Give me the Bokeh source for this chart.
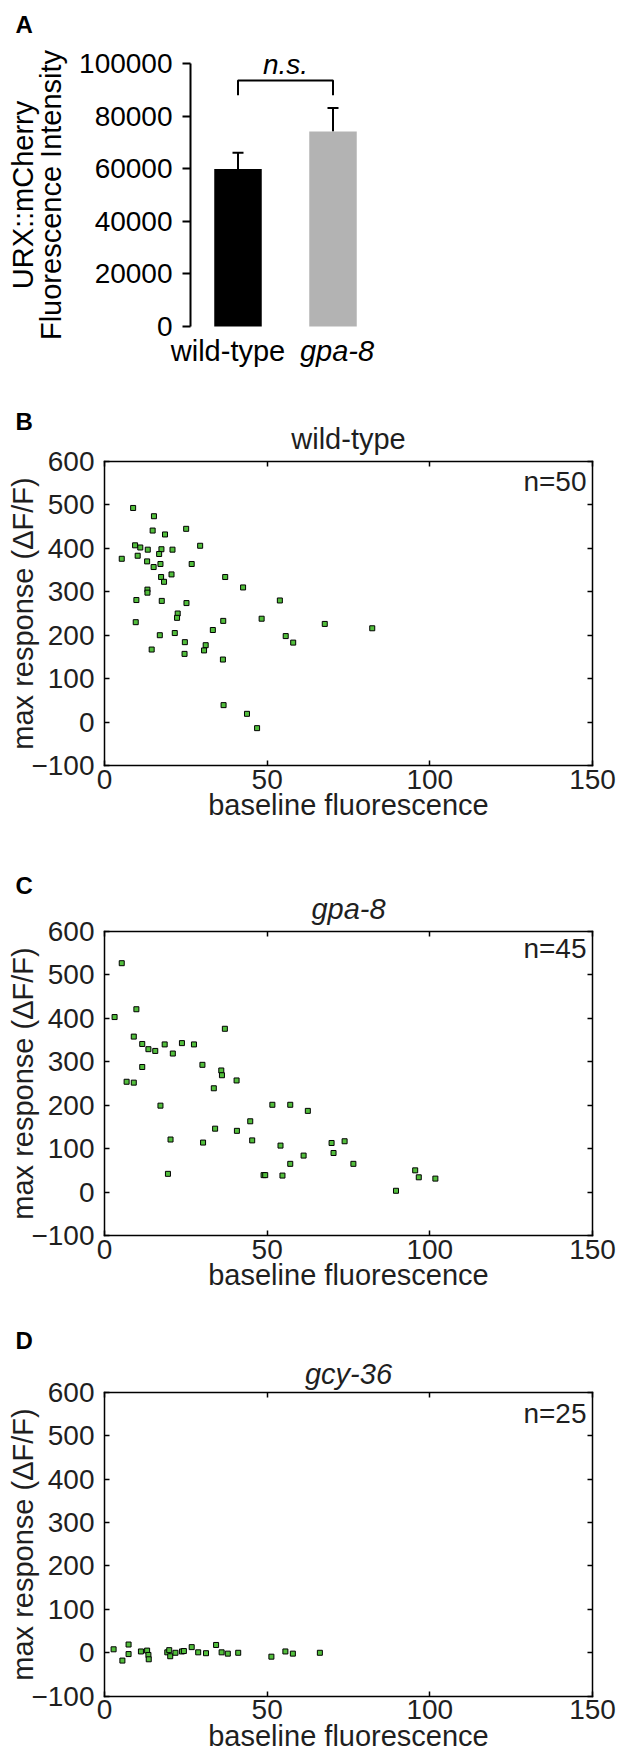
from bokeh.plotting import figure
from bokeh.layouts import column
from bokeh.models import (Range1d, FixedTicker, LinearAxis, Label, Whisker, TeeHead,
                          ColumnDataSource, BasicTickFormatter, CustomJSTickFormatter)
from bokeh.embed import file_html
from bokeh.resources import INLINE

FONT = "Liberation Sans"
TXT = "#1f1f1f"
GREEN = "#52BE3C"

# ---------------- data ----------------
bar_categories = ["wild-type", "gpa-8"]
bar_category_styles = ["normal", "italic"]
bar_means = [60000, 74200]
bar_sems = [6100, 9000]
bar_colors = ["black", "#B3B3B3"]
bar_ticks = [0, 20000, 40000, 60000, 80000, 100000]
bar_sig_label = "n.s."

scatter_x_ticks = [0, 50, 100, 150]
scatter_y_ticks = [-100, 0, 100, 200, 300, 400, 500, 600]

wt_baseline = [8.8, 15.2, 14.8, 25.1, 18.6, 9.4, 11.0, 13.3, 17.5, 20.9,
               29.4, 16.8, 10.2, 5.3, 13.1, 17.2, 15.1, 26.8, 20.6, 17.4,
               18.3, 37.1, 42.6, 13.2, 13.2, 9.8, 17.6, 25.2, 53.9, 22.5,
               22.3, 9.6, 36.5, 48.3, 67.7, 82.3, 21.6, 17.0, 33.3, 55.7,
               24.7, 58.0, 31.1, 14.5, 30.6, 24.6, 36.4, 36.6, 43.8, 46.9]
wt_response = [493, 474, 441, 445, 432, 407, 402, 397, 398, 397,
               406, 387, 383, 376, 370, 364, 357, 364, 340, 334,
               323, 334, 310, 305, 298, 281, 279, 274, 280, 250,
               240, 230, 233, 238, 226, 216, 205, 200, 212, 198,
               184, 183, 177, 167, 165, 157, 144, 39, 19, -14]

gpa8_baseline = [5.3, 3.1, 9.8, 37.0, 9.0, 11.6, 18.5, 23.8, 27.5, 13.5,
                 15.6, 21.0, 30.1, 11.6, 35.9, 36.1, 6.8, 9.0, 40.6, 33.6,
                 17.2, 51.6, 57.1, 62.5, 44.8, 34.0, 40.7, 20.3, 45.4, 30.3,
                 54.1, 69.8, 73.8, 70.4, 61.2, 57.1, 76.5, 19.5, 48.9, 49.4,
                 54.7, 95.5, 96.6, 101.7, 89.6]
gpa8_response = [527, 403, 421, 376, 358, 341, 340, 343, 340, 329,
                 325, 319, 293, 288, 280, 269, 254, 252, 257, 239,
                 199, 201, 201, 187, 163, 146, 141, 121, 119, 114,
                 107, 113, 117, 90, 84, 65, 65, 42, 39, 39,
                 38, 50, 34, 31, 3]

gcy36_baseline = [2.8, 5.5, 7.4, 7.4, 11.2, 13.1, 13.5, 13.6, 19.3, 19.9,
                  20.2, 21.8, 23.8, 24.4, 26.8, 28.8, 31.2, 34.3, 36.0, 37.9,
                  41.1, 51.3, 55.6, 57.9, 66.2]
gcy36_response = [8, -18, 19, -3, 3, 5, -5, -15, 1, 6,
                  -8, 0, 3, 4, 13, 1, -1, 18, 1, -2,
                  0, -9, 3, -2, 0]

W = 619          # the generated page has no body margin
LABEL_SIZE = "29px"
TICK_SIZE = "28px"


def make_fig(height, box, xlim, ylim):
    """Figure whose frame is the whole canvas; `box` (left, right, top, bottom) in
    canvas pixels is where xlim/ylim land."""
    bl, br, bt, bb = box
    sx = (xlim[1] - xlim[0]) / (br - bl)
    sy = (ylim[1] - ylim[0]) / (bb - bt)
    p = figure(width=W, height=height, output_backend="svg", toolbar_location=None,
               x_range=Range1d(xlim[0] - bl * sx, xlim[1] + (W - br) * sx),
               y_range=Range1d(ylim[0] - (height - bb) * sy, ylim[1] + bt * sy),
               min_border=0)
    p.min_border_left = p.min_border_right = p.min_border_top = p.min_border_bottom = 0
    p.grid.visible = False
    p.outline_line_color = None

    def at(px, py):
        return xlim[0] + (px - bl) * sx, ylim[1] - (py - bt) * sy
    return p, at


def text(p, xy, s, size=LABEL_SIZE, style="normal", align="left", color=TXT, x_offset=0):
    # xy is the vertical middle of the text line
    p.add_layout(Label(x=xy[0], y=xy[1], text=s, x_offset=x_offset, text_font=FONT,
                       text_font_size=size, text_font_style=style, text_align=align,
                       text_baseline="middle", text_color=color))


# ---------------- panel A ----------------
pos = [i + 0.5 for i in range(len(bar_categories))]
pa, at_a = make_fig(400, (190, 380, 63.3, 326), (0, len(bar_categories)),
                    (bar_ticks[0], bar_ticks[-1]))
pa.xaxis.visible = False

pa.vbar(x=pos, top=bar_means, width=0.5, fill_color=bar_colors, line_color=None)
src = ColumnDataSource(dict(x=pos, lower=bar_means,
                            upper=[m + s for m, s in zip(bar_means, bar_sems)]))
pa.add_layout(Whisker(source=src, base="x", lower="lower", upper="upper",
                      line_width=2, line_color="black",
                      upper_head=TeeHead(size=11, line_width=2, line_color="black"),
                      lower_head=None))
bracket_top = 93600
bracket_drop = 5600
pa.line(x=[pos[0], pos[0], pos[1], pos[1]],
        y=[bracket_top - bracket_drop, bracket_top, bracket_top, bracket_top - bracket_drop],
        line_width=2, line_color="black")
text(pa, (sum(pos) / len(pos), at_a(0, 63.5)[1]), bar_sig_label, size=TICK_SIZE,
     style="italic", align="center", color="black")
for i, cat in enumerate(bar_categories):
    text(pa, (pos[i], at_a(0, 350.5)[1]), cat, style=bar_category_styles[i], align="center",
         color="black", x_offset=(-10 if i == 0 else 4))
text(pa, at_a(15, 23.5), "A", size="24px", style="bold", color="black")

ya = pa.yaxis[0]
ya.fixed_location = 0
ya.bounds = (bar_ticks[0], bar_ticks[-1])
ya.ticker = FixedTicker(ticks=bar_ticks)
ya.formatter = BasicTickFormatter(use_scientific=False)
ya.major_tick_out = 8
ya.major_tick_in = 0
ya.minor_tick_out = 0
ya.minor_tick_in = 0
ya.major_tick_line_width = 2
ya.axis_line_width = 2
ya.major_label_standoff = 10
ya.major_label_text_font = FONT
ya.major_label_text_font_size = TICK_SIZE
ya.major_label_text_color = "black"
ya.axis_label = "URX::mCherry\nFluorescence Intensity"
ya.axis_label_text_font = FONT
ya.axis_label_text_font_size = LABEL_SIZE
ya.axis_label_text_font_style = "normal"
ya.axis_label_text_color = "black"
ya.axis_label_text_line_height = 0.88
ya.axis_label_standoff = 9


# ---------------- scatter panels ----------------
def scatter_panel(letter, title, title_style, xs, ys, height, box_top, box_bottom,
                  letter_mid, title_mid, n_mid):
    x0, x1 = scatter_x_ticks[0], scatter_x_ticks[-1]
    y0, y1 = scatter_y_ticks[0], scatter_y_ticks[-1]
    bl, br = 104, 592
    p, at = make_fig(height, (bl, br, box_top, box_bottom), (x0, x1), (y0, y1))

    xa = p.xaxis[0]
    xa.fixed_location = y0
    xa.bounds = (x0, x1)
    xa.ticker = FixedTicker(ticks=scatter_x_ticks)
    xa.axis_label = "baseline fluorescence"
    xa.major_label_standoff = 4
    xa.axis_label_standoff = -3
    yax = p.yaxis[0]
    yax.fixed_location = x0
    yax.bounds = (y0, y1)
    yax.ticker = FixedTicker(ticks=scatter_y_ticks)
    yax.major_label_overrides = {-100: "\u2212100"}
    yax.axis_label = "max response (\u0394F/F)"
    yax.major_label_standoff = 10
    yax.axis_label_standoff = -11
    for ax in (xa, yax):
        ax.major_label_text_font = FONT
        ax.major_label_text_font_size = TICK_SIZE
        ax.major_label_text_color = TXT
        ax.axis_label_text_font = FONT
        ax.axis_label_text_font_size = LABEL_SIZE
        ax.axis_label_text_font_style = "normal"
        ax.axis_label_text_color = TXT
    axes = [xa, yax]
    for loc, ticks, fixed, bounds in (("above", scatter_x_ticks, y1, (x0, x1)),
                                      ("right", scatter_y_ticks, x1, (y0, y1))):
        ax = LinearAxis(ticker=FixedTicker(ticks=ticks), fixed_location=fixed, bounds=bounds,
                        formatter=CustomJSTickFormatter(code="return ''"),
                        major_label_standoff=0, major_label_text_font_size="0px")
        p.add_layout(ax, loc)
        axes.append(ax)
    for ax in axes:
        ax.axis_line_color = "black"
        ax.axis_line_width = 1.5
        ax.axis_line_cap = "square"
        ax.major_tick_in = 5
        ax.major_tick_out = 0
        ax.minor_tick_in = 0
        ax.minor_tick_out = 0
        ax.major_tick_line_width = 1.5
        ax.major_tick_line_color = "black"

    p.scatter(x=xs, y=ys, marker="square", size=5, fill_color=GREEN,
              line_color="black", line_width=1)
    text(p, (x1 - 6 * (x1 - x0) / (br - bl), at(0, n_mid)[1]), "n=%d" % len(xs),
         size=TICK_SIZE, align="right")
    text(p, ((x0 + x1) / 2, at(0, title_mid)[1]), title, style=title_style, align="center")
    text(p, at(15, letter_mid), letter, size="24px", style="bold", color="black")
    return p


pb = scatter_panel("B", "wild-type", "normal", wt_baseline, wt_response,
                   460, 61, 365, 21, 38.5, 80.7)
pc = scatter_panel("C", "gpa-8", "italic", gpa8_baseline, gpa8_response,
                   460, 71, 375, 25, 48.5, 88.3)
pd = scatter_panel("D", "gcy-36", "italic", gcy36_baseline, gcy36_response,
                   443, 71.7, 375.7, 20, 53.3, 93.3)

layout = column(pa, pb, pc, pd, spacing=0)
open("out.html", "w").write(file_html(layout, INLINE))
